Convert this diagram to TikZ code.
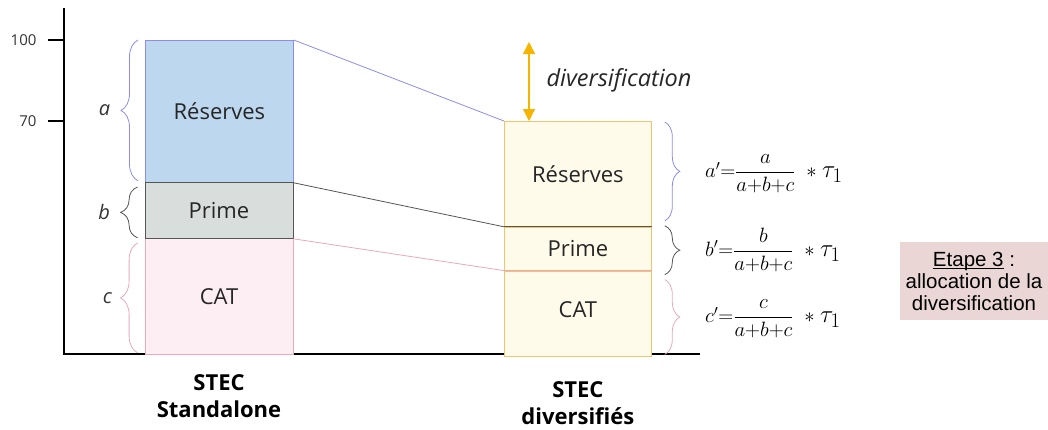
\documentclass[tikz,border=0pt]{standalone}
\usepackage{fontspec}
\setmainfont{Open Sans}
\newfontfamily\arialfont{Liberation Sans}
\usepackage{amsmath}
\usetikzlibrary{arrows.meta, positioning, calc, decorations.pathreplacing}
\definecolor{resblue}{HTML}{BDD7EE}
\definecolor{resedge}{HTML}{8C8CEB}
\definecolor{primegray}{HTML}{D9DEDC}
\definecolor{primeedge}{HTML}{555555}
\definecolor{catpink}{HTML}{FCEEF2}
\definecolor{catedge}{HTML}{E6AABB}
\definecolor{divfill}{HTML}{FFFBEB}
\definecolor{divedge}{HTML}{F2C46D}
\definecolor{divorange}{HTML}{F5B400}
\definecolor{stepbg}{HTML}{EBD6D6}
\newsavebox{\ulbox}
\newcommand{\stepline}[1]{\sbox{\ulbox}{#1}\rlap{\rule[-3pt]{\wd\ulbox}{1pt}}\usebox{\ulbox}}
\newcommand{\share}[1]{$#1'{=}\dfrac{#1}{a{+}b{+}c}$\ \ $\ast$\ {\fontsize{24.88}{26}\selectfont$\tau_1$}}

\begin{document}
\begin{tikzpicture}[
  x=1pt, y=-1pt,
  block/.style={minimum width=148pt, inner sep=0pt, line width=0.8pt,
    font=\fontsize{22}{26}\selectfont, text=black!85},
  resleft/.style={block, anchor=north west, draw=resedge, fill=resblue,
    minimum height=142pt},
  primeleft/.style={block, draw=primeedge, fill=primegray, minimum height=56pt},
  catleft/.style={block, draw=catedge, fill=catpink, minimum height=116pt},
  divblock/.style={block, draw=divedge, fill=divfill, minimum width=147pt},
  brc/.style={decorate, decoration={brace, amplitude=#1}, line width=0.8pt},
  link/.style={line width=0.8pt},
  divarr/.style={{Triangle[width=12pt,length=12pt]}-{Triangle[width=12pt,length=12pt]},
    divorange, line width=1.2pt},
  axislab/.style={font=\fontsize{15}{18}\selectfont, text=black!80},
  bracelab/.style={font=\fontsize{20}{24}\selectfont\itshape, text=black!80},
  formula/.style={anchor=west, font=\fontsize{20.74}{24}\selectfont, inner sep=0pt},
  stack/.style={align=center, inner sep=0pt, font=\fontsize{22}{27}\selectfont\bfseries},
]
  \useasboundingbox (0,0) rectangle (1048,429);

  % axes
  \coordinate (origin) at (64,354);
  \draw[line width=1.3pt] (64,8) -- (origin) -- (700,354);
  \draw[line width=1.2pt] (48,40) -- (64,40);
  \draw[line width=1.2pt] (48,121) -- (64,121);
  \node[axislab, anchor=east] (lab100) at (40,40) {100};
  \node[axislab, anchor=east] (lab70) at (40,121) {70};

  % STEC standalone
  \node[resleft] (resL) at (145,40) {Réserves};
  \node[catleft, anchor=north] (catL) at (219,238) {CAT};
  \node[primeleft, anchor=north] (primeL) at (219,182) {\raisebox{-2pt}{Prime}};

  % STEC diversifies
  \node[divblock, anchor=north west, minimum height=105pt] (resR) at (504,121) {\raisebox{-3pt}{Réserves}};
  \node[divblock, below=0pt of resR, minimum height=43pt] (primeR) {Prime};
  \node[divblock, below=0pt of primeR, minimum height=85pt] (catR) {\raisebox{8pt}{CAT}};
  \draw[link, primeedge] (resR.south west) -- (resR.south east);
  \draw[link, catedge] (primeR.south west) -- (primeR.south east);

  % links
  \draw[link, resedge] (resL.north east) -- (resR.north west);
  \draw[link, primeedge] (resL.south east) -- (resR.south west);
  \draw[link, catedge] (primeL.south east) -- (primeR.south west);

  % braces left
  \draw[brc=17pt, resedge] ([xshift=-7pt,yshift=2pt]resL.south west) -- ([xshift=-7pt]resL.north west)
    node[midway, bracelab, left=24pt] (la) {a};
  \draw[brc=17pt, primeedge] ([xshift=-7pt,yshift=1pt]primeL.south west) -- ([xshift=-7pt,yshift=-5pt]primeL.north west)
    node[midway, bracelab, left=24pt] (lb) {b};
  \draw[brc=17pt, catedge] ([xshift=-7pt,yshift=2pt]catL.south west) -- ([xshift=-7pt,yshift=-5pt]catL.north west)
    node[midway, bracelab, left=22pt] (lc) {c};

  % braces right
  \draw[brc=15pt, resedge] ([xshift=13pt,yshift=-1pt]resR.north east) -- ([xshift=13pt,yshift=6pt]resR.south east);
  \draw[brc=15pt, primeedge] ([xshift=13pt,yshift=1pt]primeR.north east) -- ([xshift=13pt,yshift=-4pt]primeR.south east);
  \draw[brc=15pt, catedge] ([xshift=13pt,yshift=-9pt]catR.north east) -- ([xshift=13pt,yshift=2pt]catR.south east);

  \node[formula] (fa) at (705,174) {\share{a}};
  \node[formula] (fb) at (705,250) {\share{b}};
  \node[formula] (fc) at (705,319) {\share{c}};

  % diversification
  \coordinate (divtop) at (529,42);
  \draw[divarr] (divtop) -- (divtop |- resR.north);
  \node[anchor=west, font=\fontsize{23.5}{27}\selectfont\itshape, text=black!85] (divlab) at (543,80) {diversification};

  % labels
  \node[stack, below=20pt of catL] (stdlab) {STEC\\Standalone};
  \node[stack, below=25pt of catR] (divstec) {STEC\\diversifiés};

  \node[fill=stepbg, minimum width=148pt, minimum height=78pt, align=center,
    font=\arialfont\fontsize{20.5}{22}\selectfont, inner sep=0pt] (etape) at (974,281)
    {\stepline{Etape 3} :\\allocation de la\\diversification};
\end{tikzpicture}
\end{document}
